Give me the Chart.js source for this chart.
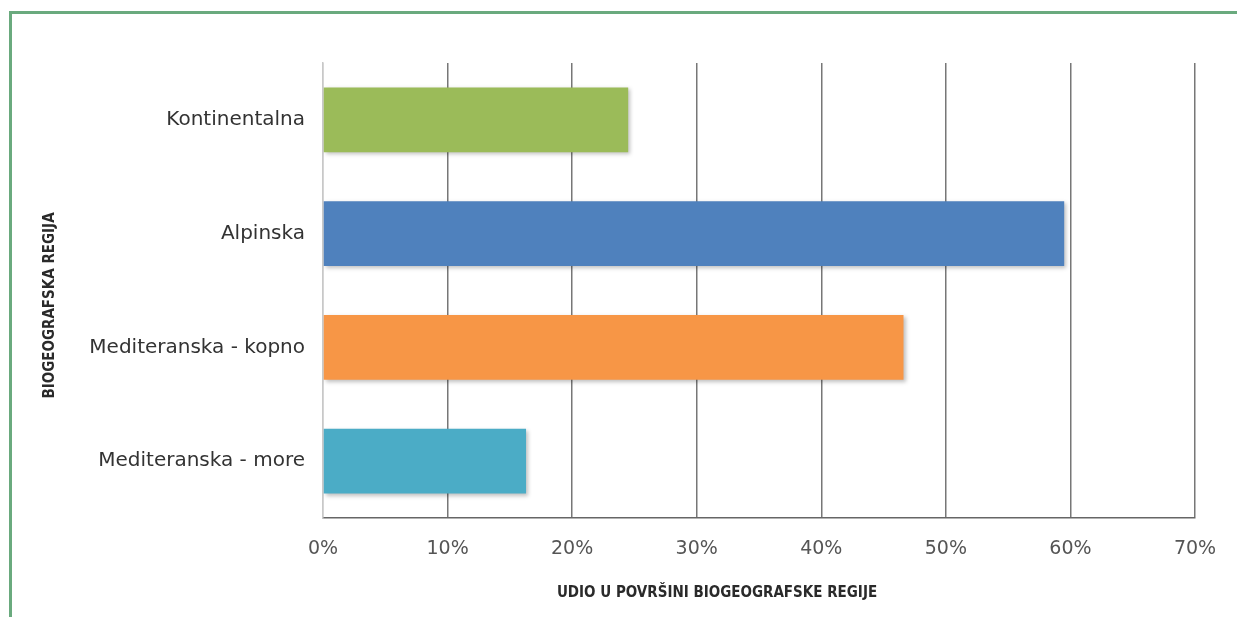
<!DOCTYPE html>
<html lang="hr">
<head>
    <meta charset="UTF-8">
    <title>Udio u površini biogeografske regije</title>
    <script src="https://cdn.jsdelivr.net/npm/chart.js"></script>
    <style>
        body { margin: 0; background: #fff; }
        #wrap { position: relative; width: 1237px; height: 617px; }
        #frame { position: absolute; left: 9px; top: 11px; right: 0; bottom: 0;
                 border-top: 3px solid #6aaa7e; border-left: 3px solid #6aaa7e; }
        canvas { position: absolute; left: 0; top: 0; }
    </style>
</head>
<body>
<div id="wrap">
    <div id="frame"></div>
    <canvas id="regionChart" width="1237" height="617"></canvas>
</div>
<script>
    const regions = ['Kontinentalna', 'Alpinska', 'Mediteranska - kopno', 'Mediteranska - more'];
    const shares = [24.5, 59.5, 46.6, 16.3];
    const barColors = ['#9bbb59', '#4f81bd', '#f79646', '#4bacc6'];
    const xTicks = [0, 10, 20, 30, 40, 50, 60, 70];
    const xTitle = 'UDIO U POVRŠINI BIOGEOGRAFSKE REGIJE';
    const yTitle = 'BIOGEOGRAFSKA REGIJA';

    // soft drop shadow under the bars, like the original office chart
    const shadowPlugin = {
        id: 'barShadow',
        beforeDatasetsDraw(chart) {
            const ctx = chart.ctx;
            ctx.save();
            ctx.shadowColor = 'rgba(0,0,0,0.25)';
            ctx.shadowBlur = 4;
            ctx.shadowOffsetX = 2;
            ctx.shadowOffsetY = 2;
        },
        afterDatasetsDraw(chart) {
            chart.ctx.restore();
        }
    };

    // axis titles sit a bit off-centre in the original, so draw them by hand
    const titlesPlugin = {
        id: 'axisTitles',
        afterDraw(chart) {
            const ctx = chart.ctx;
            const area = chart.chartArea;
            ctx.save();
            ctx.fillStyle = '#2a2a2a';
            ctx.font = 'bold 15px "DejaVu Sans Condensed"';
            ctx.textAlign = 'center';
            ctx.textBaseline = 'middle';
            ctx.fillText(xTitle, (area.left + area.right) / 2 - 42, 593);
            ctx.translate(50, (area.top + area.bottom) / 2 + 15);
            ctx.rotate(-Math.PI / 2);
            ctx.fillText(yTitle, 0, 0);
            ctx.restore();
        }
    };

    const ctx = document.getElementById('regionChart').getContext('2d');
    new Chart(ctx, {
        type: 'bar',
        data: {
            labels: regions,
            datasets: [{
                data: shares,
                backgroundColor: barColors,
                borderWidth: 0,
                categoryPercentage: 1,
                barPercentage: 0.57
            }]
        },
        options: {
            indexAxis: 'y',
            responsive: false,
            animation: false,
            layout: { padding: { left: 42, top: 63, right: 42, bottom: 8 } },
            plugins: { legend: { display: false }, tooltip: { enabled: false } },
            scales: {
                x: {
                    min: 0,
                    max: 70,
                    afterBuildTicks: scale => { scale.ticks = xTicks.map(v => ({ value: v })); },
                    afterFit: scale => { scale.height = 91; },
                    ticks: {
                        callback: v => v + '%',
                        color: '#555',
                        font: { family: 'DejaVu Sans', size: 19 },
                        padding: 20,
                        maxRotation: 0
                    },
                    grid: {
                        color: c => c.index === 0 ? '#c8c8c8' : '#777',
                        lineWidth: 1.5,
                        drawTicks: false
                    },
                    border: { color: '#666', width: 1.5 }
                },
                y: {
                    afterFit: scale => { scale.width = 281; },
                    ticks: {
                        color: '#333',
                        font: { family: 'DejaVu Sans', size: 20 },
                        padding: 18
                    },
                    grid: { display: false, drawTicks: false },
                    border: { color: '#c8c8c8', width: 1.5 }
                }
            }
        },
        plugins: [shadowPlugin, titlesPlugin]
    });
</script>
</body>
</html>
